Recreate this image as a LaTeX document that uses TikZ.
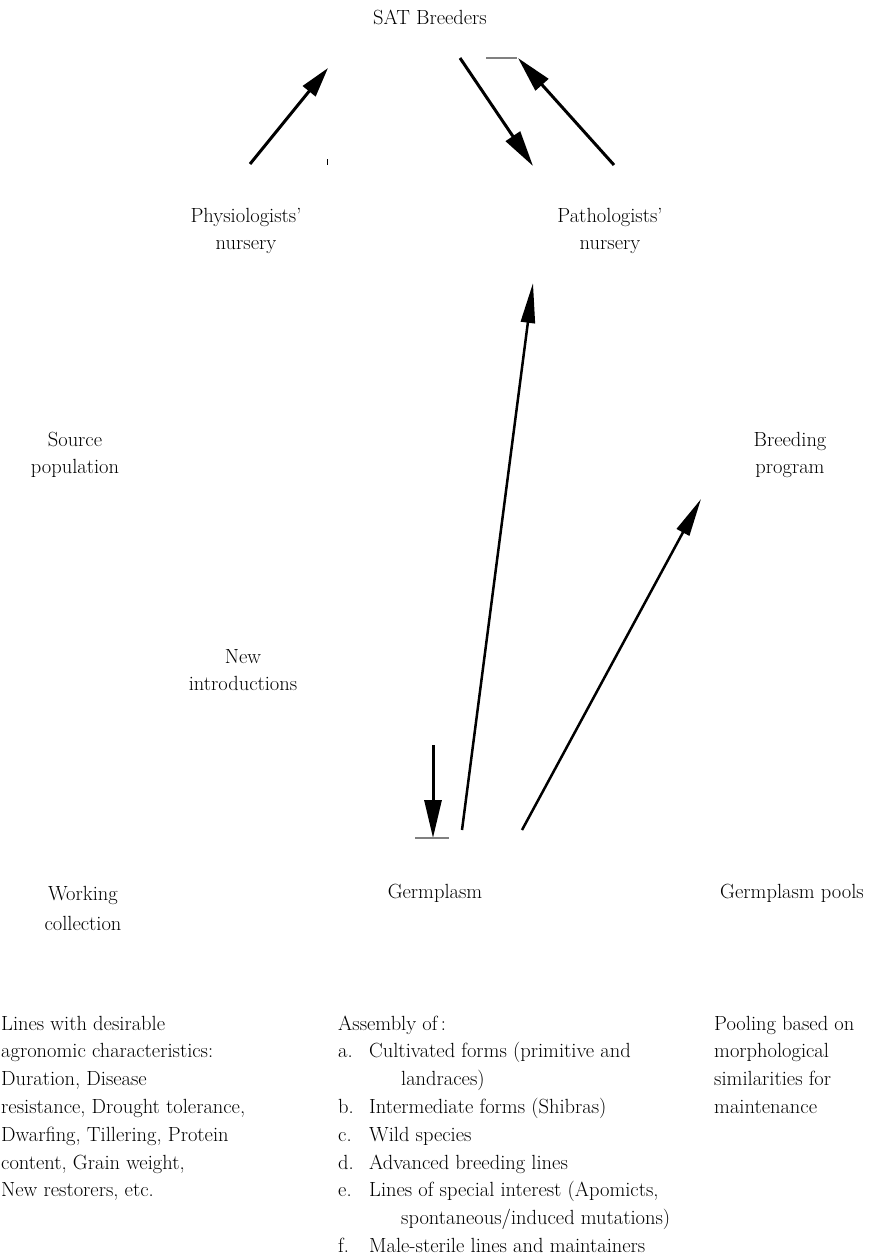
\documentclass[tikz,border=0pt]{standalone}
\usepackage{fontspec}
\usetikzlibrary{arrows.meta}
\tikzset{
  lbl/.style={font=\fontsize{20.5}{27}\selectfont, align=center, inner sep=0pt},
  txt/.style={font=\fontsize{20.5}{27}\selectfont, anchor=base west, inner sep=0pt},
  arr/.style={line width=3pt, -{Triangle[length=36pt,width=17pt]}},
  slimarr/.style={line width=2.5pt, -{Triangle[length=40pt,width=14pt]}},
  ghost/.style={gray, line width=1.5pt}
}
\begin{document}
\begin{tikzpicture}[x=1pt,y=-1pt]
\fill[white] (0,0) rectangle (871,1258);
\useasboundingbox (0,0) rectangle (871,1258);

% labels
\node[lbl] (sat) at (430,17) {SAT Breeders};
\node[lbl] (phys) at (246,231) {Physiologists'\\nursery};
\node[lbl] (path) at (610,231) {Pathologists'\\nursery};
\node[lbl] (source) at (75,455) {Source\\population};
\node[lbl] (breed) at (790,455) {Breeding\\program};
\node[lbl] (newint) at (243,670) {New\\introductions};
\node[lbl, font=\fontsize{20.5}{30}\selectfont] (work) at (83,908) {Working\\collection};
\node[lbl] (germ) at (435,893) {Germplasm};
\node[lbl] (pools) at (792,893) {Germplasm pools};

% connector end points
\coordinate (a1s) at (250,164);
\coordinate (a1e) at (328,68);
\coordinate (a2s) at (460,58);
\coordinate (a2e) at (533,166);
\coordinate (a3s) at (614,165);
\coordinate (a3e) at (518,58);
\coordinate (a4s) at (462,830);
\coordinate (a4e) at (533,283);
\coordinate (a5s) at (522,830);
\coordinate (a5e) at (701,499);
\coordinate (a6s) at (433,745);
\coordinate (a6e) at (433,838);

% connectors
\begin{scope}
  \clip (0,0) rectangle (328.5,1258);
  \draw[arr, -{Triangle[length=30pt,width=16pt]}] (a1s) -- (a1e);
\end{scope}
\draw[line width=1pt] (327.5,159) -- (327.5,165);
\draw[arr] (a2s) -- (a2e);
\draw[arr] (a3s) -- (a3e);
\draw[slimarr] (a4s) -- (a4e);
\draw[slimarr, -{Triangle[length=38pt,width=14pt]}] (a5s) -- (a5e);
\draw[arr, -{Triangle[length=38pt,width=17pt]}] (a6s) -- (a6e);
\draw[ghost] (486,58) -- (517,58);
\draw[ghost] (415,838) -- (449,838);

% left block
\foreach \t [count=\i] in {Lines with desirable, agronomic characteristics:, {Duration, Disease}, {resistance, Drought tolerance,}, {Dwarfing, Tillering, Protein}, {content, Grain weight,}, {New restorers, etc.}}
  \node[txt] (l\i) at (1,{1030+27.8*(\i-1)}) {\t};

% middle block
\node[txt] (m0) at (338,1030) {Assembly of\,:};
\foreach \k/\t [count=\i] in {a./{Cultivated forms (primitive and}, b./{Intermediate forms (Shibras)}, c./{Wild species}, d./{Advanced breeding lines}, e./{Lines of special interest (Apomicts,}, f./{Male-sterile lines and maintainers}}
{
  \pgfmathsetmacro{\row}{\i<=1 ? \i : (\i<=5 ? \i+1 : \i+2)}
  \node[txt] (k\i) at (338,{1030+27.8*\row}) {\k};
  \node[txt] (m\i) at (369,{1030+27.8*\row}) {\t};
}
\node[txt] (m1b) at (401,{1030+27.8*2}) {landraces)};
\node[txt] (m5b) at (401,{1030+27.8*7}) {spontaneous/induced mutations)};

% right block
\foreach \t [count=\i] in {Pooling based on, morphological, similarities for, maintenance}
  \node[txt] (r\i) at (714,{1030+27.8*(\i-1)}) {\t};
\end{tikzpicture}
\end{document}
